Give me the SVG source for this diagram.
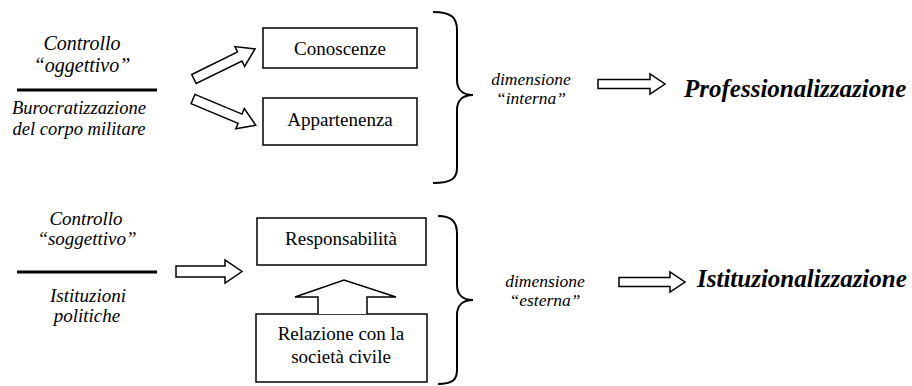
<svg xmlns="http://www.w3.org/2000/svg" width="912" height="386" viewBox="0 0 912 386">
<style>
text{font-family:"Liberation Serif","Times New Roman",serif;fill:#000}
.it{font-style:italic}
.bi{font-style:italic;font-weight:bold;font-size:25px}
.box{fill:#fff;stroke:#000;stroke-width:1.5}
.arr{fill:#fff;stroke:#000;stroke-width:1.5;stroke-linejoin:miter}
.brace{fill:none;stroke:#000;stroke-width:2}
.rule{stroke:#000;stroke-width:3}
</style>
<defs>
<path id="blk" d="M0,-5 L51,-5 L51,-11 L68,0 L51,11 L51,5 L0,5 Z"/>
</defs>
<g id="left-top">
<text class="it" x="82" y="50" font-size="20" text-anchor="middle">Controllo</text>
<text class="it" x="82" y="72" font-size="20" text-anchor="middle">“oggettivo”</text>
<line class="rule" x1="17" y1="90" x2="157" y2="90"/>
<text class="it" x="79" y="114" font-size="18.5" text-anchor="middle">Burocratizzazione</text>
<text class="it" x="79" y="135" font-size="18.5" text-anchor="middle">del corpo militare</text>
</g>
<g id="left-bottom">
<text class="it" x="86" y="225" font-size="19" text-anchor="middle">Controllo</text>
<text class="it" x="87" y="245" font-size="19" text-anchor="middle">“soggettivo”</text>
<line class="rule" x1="17" y1="272" x2="157" y2="272"/>
<text class="it" x="88" y="302" font-size="19" text-anchor="middle">Istituzioni</text>
<text class="it" x="87" y="322" font-size="19" text-anchor="middle">politiche</text>
</g>
<g id="conoscenze">
<rect class="box" x="263" y="28" width="154" height="40"/>
<text x="340" y="55" font-size="19" text-anchor="middle">Conoscenze</text>
</g>
<g id="appartenenza">
<rect class="box" x="263" y="98" width="154" height="47"/>
<text x="340" y="126" font-size="19" text-anchor="middle">Appartenenza</text>
</g>
<g id="responsabilita">
<rect class="box" x="257" y="218" width="169" height="47"/>
<text x="341" y="245" font-size="19" text-anchor="middle">Responsabilità</text>
</g>
<g id="relazione">
<rect class="box" x="256" y="314" width="171" height="68"/>
<text x="341" y="340" font-size="19" text-anchor="middle">Relazione con la</text>
<text x="341" y="363" font-size="19" text-anchor="middle">società civile</text>
</g>
<g id="interna">
<path class="brace" d="M433,12 C452,12 457,18 457,30 L457,80 C457,89 462,95 473,95 C462,95 457,101 457,110 L457,168 C457,178 452,183 433,183"/>
<text class="it" x="531" y="85" font-size="17.5" text-anchor="middle">dimensione</text>
<text class="it" x="531" y="104" font-size="17.5" text-anchor="middle">“interna”</text>
</g>
<g id="esterna">
<path class="brace" d="M438,216 C452,216 457,222 457,234 L457,285 C457,294 462,300 473,300 C462,300 457,306 457,315 L457,370 C457,380 452,384 438,384"/>
<text class="it" x="545" y="287" font-size="17.5" text-anchor="middle">dimensione</text>
<text class="it" x="545" y="306" font-size="17.5" text-anchor="middle">“esterna”</text>
</g>
<g id="professionalizzazione">
<text class="bi" x="684" y="97">Professionalizzazione</text>
</g>
<g id="istituzionalizzazione">
<text class="bi" x="697" y="287">Istituzionalizzazione</text>
</g>
<g id="connectors">
<use href="#blk" class="arr" transform="translate(194,79) rotate(-26.2)"/>
<use href="#blk" class="arr" transform="translate(193,99) rotate(22.7)"/>
<path class="arr" d="M176,266 L225,266 L225,260 L242,271.5 L225,283 L225,277 L176,277 Z"/>
<path class="arr" d="M318,314 L318,297 L295,297 L344,280 L396,297 L367,297 L367,314"/>
<path class="arr" d="M598,79.5 L650,79.5 L650,74 L665,84 L650,94 L650,88.5 L598,88.5 Z"/>
<path class="arr" d="M619,277.5 L670,277.5 L670,272 L685,282 L670,292 L670,286.5 L619,286.5 Z"/>
</g>
</svg>
